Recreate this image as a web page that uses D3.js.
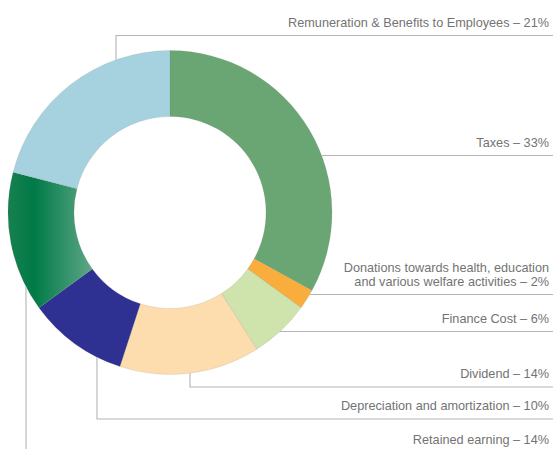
<!DOCTYPE html>
<html>
<head>
<meta charset="utf-8">
<script src="https://cdn.jsdelivr.net/npm/d3@7"></script>
<style>
    body { margin: 0; background: #fff; }
    svg { display: block; }
    .label { font-family: "Liberation Sans", Arial, Helvetica, sans-serif; font-size: 12.7px; fill: #737373; }
</style>
</head>
<body>
<svg id="chart" width="553" height="449"></svg>
<script>
// data, clockwise from 12 o'clock
const categories = ["Taxes", "Donations", "Finance Cost", "Dividend", "Depreciation", "Retained earning", "Remuneration"]
const shares = [33, 2, 6, 14, 10, 14, 21]
const labelLines = [
    ["Taxes – 33%"],
    ["Donations towards health, education", "and various welfare activities – 2%"],
    ["Finance Cost – 6%"],
    ["Dividend – 14%"],
    ["Depreciation and amortization – 10%"],
    ["Retained earning – 14%"],
    ["Remuneration & Benefits to Employees – 21%"]
]
const colors = ["#6aa673", "#f9ad3c", "#cfe3ac", "#fddcad", "#2e3192", "url(#retainedGrad)", "#a5d2de"]

// leader layout: side = "right" (horizontal from rim) or "down"/"up" (vertical from rim at x)
const leaders = [
    {side: "right", y: 155.5},
    {side: "right", y: 294.5},
    {side: "right", y: 331.5},
    {side: "down", x: 190, y: 387},
    {side: "down", x: 97, y: 419},
    {side: "down", x: 26, y: 455},
    {side: "up", x: 116, y: 35.5}
]

const cx = 170, cy = 212.5
const outerR = 162, innerR = 96
const textRight = 549, lineEnd = 553

let svg = d3.select("#chart")

// gradient coords are in the donut group's space (origin at centre)
let grad = svg.append("defs").append("linearGradient")
    .attr("id", "retainedGrad")
    .attr("gradientUnits", "userSpaceOnUse")
    .attr("x1", 8 - cx).attr("y1", 0).attr("x2", 95 - cx).attr("y2", 0)
grad.append("stop").attr("offset", 0).attr("stop-color", "#17804f")
grad.append("stop").attr("offset", 0.3).attr("stop-color", "#007a47")
grad.append("stop").attr("offset", 1).attr("stop-color", "#62a98a")

const pie = d3.pie().sort(null).value(d => d)
const arc = d3.arc().innerRadius(innerR).outerRadius(outerR)

svg.append("g")
    .attr("transform", `translate(${cx},${cy})`)
    .selectAll("path")
    .data(pie(shares))
    .join("path")
    .attr("d", arc)
    .attr("fill", (d, i) => colors[i])
    .attr("stroke", "rgba(120,120,120,0.35)")
    .attr("stroke-width", 0.4)

function rimX(y) {
    return cx + Math.sqrt(outerR * outerR - (y - cy) * (y - cy))
}

function rimY(x, up) {
    let h = Math.sqrt(outerR * outerR - (x - cx) * (x - cx))
    return up ? cy - h : cy + h
}

let lines = svg.append("g")
    .attr("fill", "none")
    .attr("stroke", "#b4b4b4")
    .attr("stroke-width", 1.1)

leaders.forEach((l, i) => {
    let path
    if (l.side === "right") {
        path = `M ${rimX(l.y)} ${l.y} H ${lineEnd}`
    } else {
        path = `M ${l.x} ${rimY(l.x, l.side === "up")} V ${l.y} H ${lineEnd}`
    }
    lines.append("path").attr("d", path)

    let texts = labelLines[i]
    let baseY = (i === 5 ? 444 : l.y - 9) - (texts.length - 1) * 13.6
    texts.forEach((t, k) => {
        svg.append("text")
            .attr("class", "label")
            .attr("x", textRight)
            .attr("y", baseY + k * 13.6)
            .attr("text-anchor", "end")
            .text(t)
    })
})
</script>
</body>
</html>
